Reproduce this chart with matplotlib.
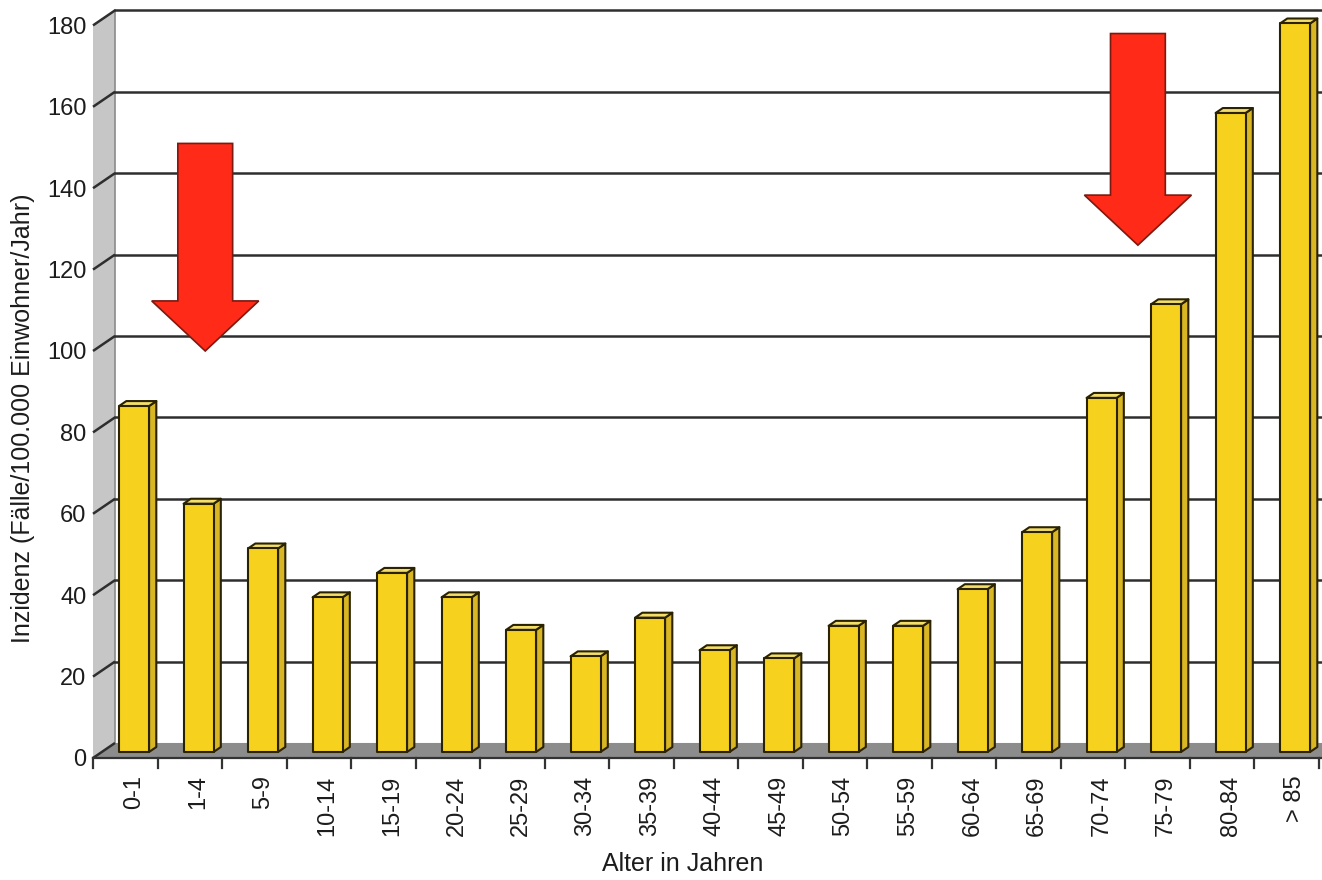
import numpy as np
import matplotlib
matplotlib.use("Agg")
import matplotlib.pyplot as plt
from matplotlib.patches import Polygon

plt.rcParams['font.family'] = ['Liberation Sans', 'DejaVu Sans']

# data
age_groups = ['0-1', '1-4', '5-9', '10-14', '15-19', '20-24', '25-29', '30-34',
              '35-39', '40-44', '45-49', '50-54', '55-59', '60-64', '65-69',
              '70-74', '75-79', '80-84', '> 85']
incidence = [85, 61, 50, 38, 44, 38, 30, 23.5, 33, 25, 23, 31, 31, 40, 54,
             87, 110, 157, 179]
y_ticks = [0, 20, 40, 60, 80, 100, 120, 140, 160, 180]
# arrows: (category, shift, top value, tip value)
arrows = [(1, 0.24, 151, 100), (16, -0.3, 178, 126)]

# 3d look
DX, DY = 0.341, 3.69        # depth of the back wall
BAR_W = 0.465
F0, FD = 0.4, 0.33          # bar front depth, bar depth
front_c, side_c, top_c, edge_c = '#F6D21E', '#D9B623', '#F3DE6C', '#2b2200'
grid_c = '#2e2e2e'
txt_c = '#1c1c1c'

fig = plt.figure(figsize=(13.22, 8.8), dpi=100)
ax = fig.add_axes([0, 0, 1, 1])
ax.set_xlim(-1.442, 19.054)
ax.set_ylim(-29.98, 186.24)
ax.axis('off')

n = len(age_groups)
ymax = y_ticks[-1]

# left wall and floor
ax.add_patch(Polygon([(0, 0), (DX, DY), (DX, ymax + DY), (0, ymax)],
                     closed=True, fc='#c6c6c6', ec='none', zorder=1))
ax.plot([DX, DX], [DY, ymax + DY], color='#8a8a8a', lw=1.2, zorder=2)
ax.add_patch(Polygon([(0, 0), (n + 1, 0), (n + 1 + DX, DY), (DX, DY)],
                     closed=True, fc='#8c8c8c', ec='none', zorder=1))

# grid lines on back wall + slanted ticks on the left wall
for v in y_ticks:
    ax.plot([0, DX], [v, v + DY], color=grid_c, lw=1.8, zorder=2,
            solid_capstyle='butt')
    if v > 0:
        ax.plot([DX, n + 1], [v + DY, v + DY], color=grid_c, lw=1.8, zorder=2)
    ax.text(-0.1, v - 0.6, str(v), ha='right', va='center', fontsize=17,
            color=txt_c)

# bottom axis
ax.plot([0, n + 0.2], [0, 0], color='#333333', lw=1.6, zorder=3)
for i in range(n + 1):
    ax.plot([i, i], [0, -2.4], color='#333333', lw=1.6, zorder=3)

# bars
for i, v in enumerate(incidence):
    x0 = i + 0.5 - BAR_W / 2 + F0 * DX
    y0 = F0 * DY
    x1 = x0 + BAR_W
    ddx, ddy = FD * DX, FD * DY
    side = [(x1, y0), (x1 + ddx, y0 + ddy), (x1 + ddx, y0 + v + ddy), (x1, y0 + v)]
    top = [(x0, y0 + v), (x0 + ddx, y0 + v + ddy), (x1 + ddx, y0 + v + ddy), (x1, y0 + v)]
    front = [(x0, y0), (x1, y0), (x1, y0 + v), (x0, y0 + v)]
    for pts, c in [(side, side_c), (top, top_c), (front, front_c)]:
        ax.add_patch(Polygon(pts, closed=True, fc=c, ec=edge_c, lw=1.5,
                             joinstyle='round', zorder=4))
    ax.text(i + 0.5 + F0 * DX, -4.3, age_groups[i], rotation=90, ha='center',
            va='top', fontsize=17, color=txt_c)

# red arrows
shaft_w, head_w, head_len = 0.85, 1.66, 12.3
for cat, shift, vtop, vtip in arrows:
    xc = cat + 0.5 + shift
    vh = vtip + head_len
    pts = [(xc - shaft_w / 2, vtop), (xc + shaft_w / 2, vtop),
           (xc + shaft_w / 2, vh), (xc + head_w / 2, vh), (xc, vtip),
           (xc - head_w / 2, vh), (xc - shaft_w / 2, vh)]
    ax.add_patch(Polygon(pts, closed=True, fc='#FF2A17', ec='#7a1a10', lw=1.2,
                         zorder=5))

fig.text(683 / 1322, 0.004, 'Alter in Jahren', ha='center', va='bottom',
         fontsize=18, color=txt_c)
fig.text(23 / 1322, 1 - 418 / 880, 'Inzidenz (Fälle/100.000 Einwohner/Jahr)',
         rotation=90, ha='center', va='center', fontsize=18, color=txt_c)

fig.savefig('out.png', dpi=100)
